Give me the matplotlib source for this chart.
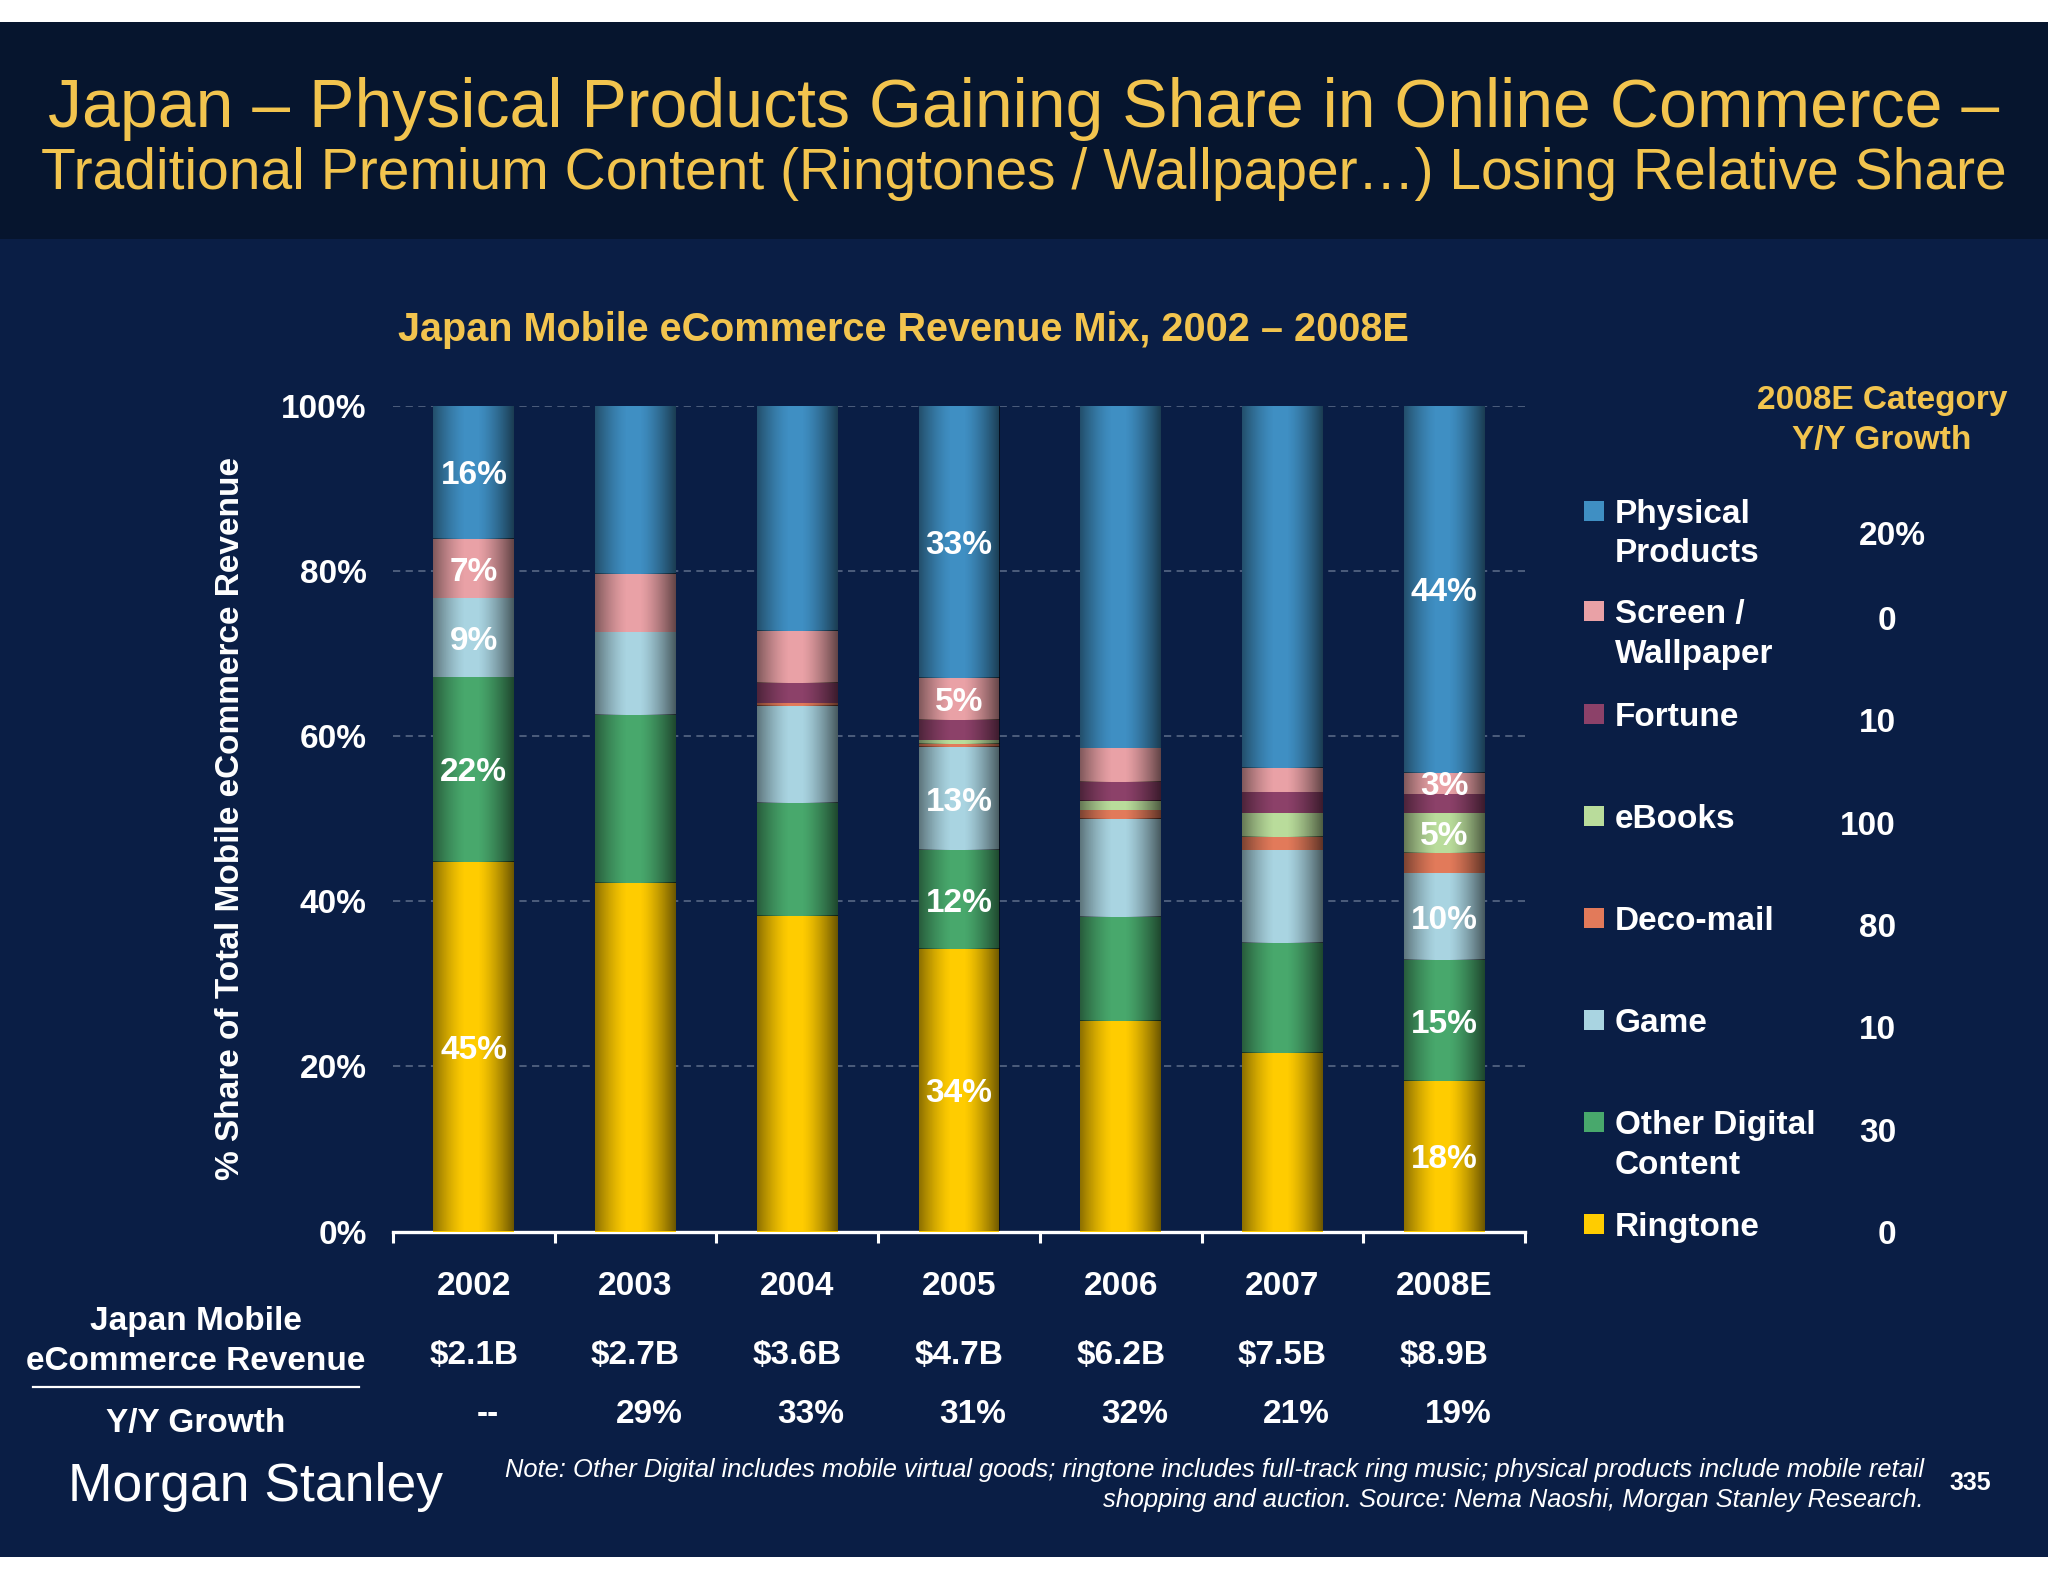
import numpy as np
import matplotlib
matplotlib.use("Agg")
import matplotlib.pyplot as plt
from matplotlib.patches import Rectangle
from matplotlib.lines import Line2D
import matplotlib.transforms as mtransforms

plt.rcParams['font.family'] = ['Liberation Sans', 'DejaVu Sans']

# ---------------- data ----------------
years = ["2002", "2003", "2004", "2005", "2006", "2007", "2008E"]
ringtone      = [44.8, 42.2, 38.2, 34.2, 25.5, 21.6, 18.2]
other_digital = [22.4, 20.4, 13.7, 12.0, 12.6, 13.4, 14.7]
game          = [9.5, 10.0, 11.8, 12.5, 11.9, 11.2, 10.5]
deco_mail     = [0.0, 0.0, 0.3, 0.4, 1.0, 1.6, 2.5]
ebooks        = [0.0, 0.0, 0.0, 0.4, 1.1, 2.9, 4.8]
fortune       = [0.0, 0.0, 2.5, 2.5, 2.4, 2.5, 2.3]
screen        = [7.2, 7.1, 6.3, 5.1, 4.1, 3.0, 2.6]
physical      = [16.1, 20.3, 27.2, 32.9, 41.4, 43.8, 44.4]

# printed segment labels (None = not printed)
ringtone_lbl = ["45%", None, None, "34%", None, None, "18%"]
other_lbl    = ["22%", None, None, "12%", None, None, "15%"]
game_lbl     = ["9%", None, None, "13%", None, None, "10%"]
deco_lbl     = [None] * 7
ebooks_lbl   = [None, None, None, None, None, None, "5%"]
fortune_lbl  = [None] * 7
screen_lbl   = ["7%", None, None, "5%", None, None, "3%"]
physical_lbl = ["16%", None, None, "33%", None, None, "44%"]

revenue = ["$2.1B", "$2.7B", "$3.6B", "$4.7B", "$6.2B", "$7.5B", "$8.9B"]
yy_growth = ["--", "29%", "33%", "31%", "32%", "21%", "19%"]

legend_names = ["Physical\nProducts", "Screen /\nWallpaper", "Fortune", "eBooks",
                "Deco-mail", "Game", "Other Digital\nContent", "Ringtone"]
legend_growth = ["20%", "0", "10", "100", "80", "10", "30", "0"]

yticks = [0, 20, 40, 60, 80, 100]
ytick_labels = ["0%", "20%", "40%", "60%", "80%", "100%"]

# ---------------- style ----------------
BG = "#0a1e45"
TITLE_BG = "#06152e"
GOLD = "#f2c44e"
WHITE = "white"
C_PHYS = "#3f8fc3"
C_SCREEN = "#e9a1a6"
C_FORT = "#8c4169"
C_EBOOK = "#b9dc9b"
C_DECO = "#e27a5a"
C_GAME = "#a9d4e1"
C_OTHER = "#48a86c"
C_RING = "#ffcc00"

W, H = 2048, 1582
def fx(px): return px / W
def fy(py): return 1 - py / H

fig = plt.figure(figsize=(W / 100, H / 100), dpi=100)
fig.patch.set_facecolor("white")
fig.add_artist(Rectangle((0, fy(1557)), 1, fy(239) - fy(1557), transform=fig.transFigure,
                         facecolor=BG, edgecolor="none", zorder=-10))
fig.add_artist(Rectangle((0, fy(239)), 1, fy(22) - fy(239), transform=fig.transFigure,
                         facecolor=TITLE_BG, edgecolor="none", zorder=-10))


def lines_text(xp, yp_first, text, step_px, **kw):
    """Place multi-line text line by line (first line centred at yp_first)."""
    for k, line in enumerate(text.split("\n")):
        fig.text(fx(xp), fy(yp_first + k * step_px), line, va="center_baseline", **kw)


# titles
fig.text(0.5, fy(102), "Japan \u2013 Physical Products Gaining Share in Online Commerce \u2013",
         color=GOLD, fontsize=49, ha="center", va="center_baseline")
fig.text(0.5, fy(168), "Traditional Premium Content (Ringtones / Wallpaper\u2026) Losing Relative Share",
         color=GOLD, fontsize=41, ha="center", va="center_baseline")

ax_l, ax_r, ax_b, ax_t = 393, 1525, 1231.5, 406
ax = fig.add_axes([fx(ax_l), fy(ax_b), fx(ax_r) - fx(ax_l), fy(ax_t) - fy(ax_b)])
ax.set_facecolor("none")

x = np.arange(len(years))
bw = 0.5
series = [(ringtone, C_RING, ringtone_lbl), (other_digital, C_OTHER, other_lbl),
          (game, C_GAME, game_lbl), (deco_mail, C_DECO, deco_lbl),
          (ebooks, C_EBOOK, ebooks_lbl), (fortune, C_FORT, fortune_lbl),
          (screen, C_SCREEN, screen_lbl), (physical, C_PHYS, physical_lbl)]

# shading profile for cylinder-like bars
t = np.linspace(0, 1, 128)
alpha = np.where(t < 0.40, 0.45 * ((0.40 - t) / 0.40) ** 1.4,
                 np.where(t > 0.55, 0.58 * ((t - 0.55) / 0.45) ** 1.4, 0.0))
shade = np.zeros((1, len(t), 4))
shade[..., 3] = alpha

bottom = np.zeros(len(years))
for vals, col, lbls in series:
    vals = np.array(vals, dtype=float)
    bars = ax.bar(x, vals, bw, bottom=bottom, color=col, edgecolor="none", zorder=3)
    for p in bars.patches:
        if p.get_height() <= 0:
            continue
        x0, y0, w_, h_ = p.get_x(), p.get_y(), p.get_width(), p.get_height()
        ax.imshow(shade, extent=(x0, x0 + w_, y0, y0 + h_), aspect="auto",
                  interpolation="bilinear", zorder=3.5)
    for i, lb in enumerate(lbls):
        if lb:
            ax.text(x[i], bottom[i] + vals[i] / 2, lb, color=WHITE, fontsize=24,
                    fontweight="bold", ha="center", va="center_baseline", zorder=5)
    bottom += vals

ax.set_xlim(-0.5, len(years) - 0.5)
ax.set_ylim(0, 100)
ax.set_yticks(yticks)
ax.set_yticklabels(ytick_labels)
ax.tick_params(axis="y", length=0, pad=19, labelsize=24, labelcolor=WHITE)
for lab in ax.get_yticklabels():
    lab.set_fontweight("bold")
ax.set_xticks(np.arange(-0.5, len(years), 1.0))
ax.set_xticklabels([])
ax.tick_params(axis="x", direction="out", length=8, width=2.2, color=WHITE)
for s in ["left", "right", "top"]:
    ax.spines[s].set_visible(False)
ax.spines["bottom"].set_color(WHITE)
ax.spines["bottom"].set_linewidth(2.4)
ax.set_axisbelow(True)
ax.yaxis.grid(True, color="#526280", linestyle=(0, (4, 3)), linewidth=1.3, zorder=0)

ax.set_ylabel("% Share of Total Mobile eCommerce Revenue", color=WHITE, fontsize=24,
              fontweight="bold")
ax.yaxis.set_label_coords(fx(246), 0.5,
                          transform=mtransforms.blended_transform_factory(fig.transFigure, ax.transAxes))

# chart title
fig.text(fx(903), fy(326), "Japan Mobile eCommerce Revenue Mix, 2002 \u2013 2008E",
         color=GOLD, fontsize=28.5, fontweight="bold", ha="center", va="center_baseline")

# bottom table
btr = mtransforms.blended_transform_factory(ax.transData, fig.transFigure)
for i in range(len(years)):
    ax.text(x[i], fy(1283), years[i], transform=btr, color=WHITE, fontsize=24,
            fontweight="bold", ha="center", va="center_baseline", clip_on=False)
    ax.text(x[i], fy(1352), revenue[i], transform=btr, color=WHITE, fontsize=24,
            fontweight="bold", ha="center", va="center_baseline", clip_on=False)
    ax.text(x[i] + 0.085, fy(1411), yy_growth[i], transform=btr, color=WHITE, fontsize=24,
            fontweight="bold", ha="center", va="center_baseline", clip_on=False)

lines_text(196, 1318, "Japan Mobile\neCommerce Revenue", 40, color=WHITE, fontsize=24,
           fontweight="bold", ha="center")
fig.add_artist(Line2D([fx(33), fx(359)], [fy(1387), fy(1387)], transform=fig.transFigure,
                      color=WHITE, linewidth=1.6))
fig.text(fx(196), fy(1420), "Y/Y Growth", color=WHITE, fontsize=24, fontweight="bold",
         ha="center", va="center_baseline")

# legend
lines_text(1882, 397, "2008E Category\nY/Y Growth", 40, color=GOLD, fontsize=24,
           fontweight="bold", ha="center")
legend_cols = [C_PHYS, C_SCREEN, C_FORT, C_EBOOK, C_DECO, C_GAME, C_OTHER, C_RING]
legend_line_y = [511, 611, 714, 816, 918, 1020, 1122, 1224]
legend_val_y = [533, 618, 720, 823, 925, 1027, 1130, 1232]
for name, col, g, ly, vy in zip(legend_names, legend_cols, legend_growth, legend_line_y, legend_val_y):
    fig.add_artist(Rectangle((fx(1584), fy(ly + 10)), fx(20), 20 / H, transform=fig.transFigure,
                             facecolor=col, edgecolor="none"))
    lines_text(1615, ly, name, 39.5, color=WHITE, fontsize=24, fontweight="bold", ha="left")
    xr = 1896 + (30 if g.endswith("%") else 0)
    fig.text(fx(xr), fy(vy), g, color=WHITE, fontsize=24, fontweight="bold",
             ha="right", va="center_baseline")

# footer
fig.text(fx(68), fy(1482), "Morgan Stanley", color=WHITE, fontsize=38.5,
         ha="left", va="center_baseline")
lines_text(1924, 1468,
           "Note: Other Digital includes mobile virtual goods; ringtone includes full-track ring music; physical products include mobile retail\nshopping and auction. Source: Nema Naoshi, Morgan Stanley Research.",
           30, color=WHITE, fontsize=18.4, style="italic", ha="right")
fig.text(fx(1970), fy(1481), "335", color=WHITE, fontsize=18, fontweight="bold",
         ha="center", va="center_baseline")

fig.savefig("out.png", dpi=100, facecolor=fig.get_facecolor())
